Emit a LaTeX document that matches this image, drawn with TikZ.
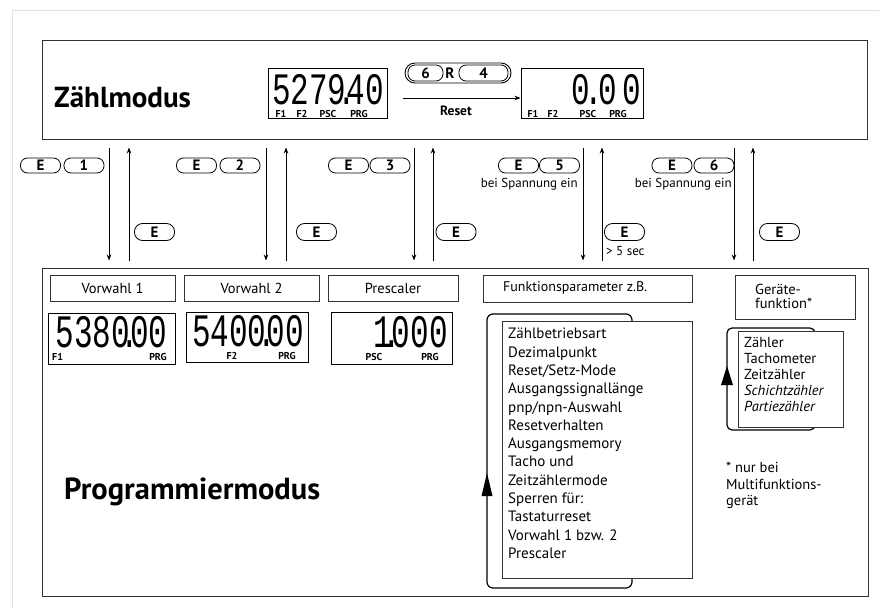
\documentclass[tikz,border=0pt]{standalone}
\usepackage{fontspec}
\setmainfont{PT Sans}
\newfontfamily\segfont{Liberation Mono}
\usetikzlibrary{arrows.meta}
\newcommand{\segdot}{\kern-.3em.\kern-.3em}
\begin{document}
\begin{tikzpicture}[x=1pt,y=-1pt,
  frame/.style={draw=black!80, line width=1pt, inner sep=0pt},
  box/.style={draw=black!80, line width=0.8pt, inner sep=0pt},
  lbl/.style={draw=black!80, line width=0.8pt, inner sep=0pt, font=\fontsize{14.5}{15}\selectfont},
  ltxt/.style={inner sep=0pt, anchor=west, align=left, font=\fontsize{14}{14}\selectfont},
  disp/.style={draw=black, line width=1pt, inner sep=0pt},
  pill/.style={draw, line width=0.8pt, rounded corners=7pt, minimum width=40pt, minimum height=15pt, inner sep=0pt, font=\bfseries\fontsize{15}{15}\selectfont},
  rpill/.style={pill, minimum height=17pt, rounded corners=8pt},
  arr/.style={-{Stealth[length=6pt,width=4.5pt]}, line width=0.7pt},
  dlab/.style={font=\bfseries\fontsize{10}{10}\selectfont, inner sep=0pt},
  seg/.style={font=\segfont\fontsize{31}{31}\selectfont, inner sep=0pt},
  small/.style={font=\fontsize{13}{14}\selectfont, inner sep=0pt},
  title/.style={font=\bfseries\fontsize{29}{29}\selectfont, inner sep=0pt, anchor=west},
  loop/.style={line width=1.2pt, rounded corners=6pt},
]
\useasboundingbox (0,0) rectangle (879,608);
\draw[black!12, line width=1pt] (879,10) -- (12,10) -- (12,608);

% main frames
\node[frame, minimum width=825pt, minimum height=99pt] (zm) at (454.5,89.5) {};
\node[frame, minimum width=826pt, minimum height=328pt] (pm) at (455,432) {};

% ---------- Zaehlmodus ----------
\node[title] (tz) at (54,97) {Zählmodus};

\node[disp, minimum width=119pt, minimum height=50pt] (d1) at (327.5,93) {};
\node[seg] (d1n) at (328,89.5) {\scalebox{1}[1.45]{5279\segdot40}};
\node[dlab] (d1a) at (281,114) {F1};
\node[dlab] (d1b) at (302,114) {F2};
\node[dlab] (d1c) at (328,114) {PSC};
\node[dlab] (d1d) at (359,114) {PRG};

\node[draw, line width=0.9pt, rounded corners=10pt, minimum width=106pt, minimum height=20pt, inner sep=0pt] (key) at (458,73) {};
\node[pill, minimum width=35pt, minimum height=16pt] (k6) at (425.5,73) {6};
\node[font=\bfseries\fontsize{15}{15}\selectfont, inner sep=0pt] (kr) at (450,73) {R};
\node[pill, minimum width=49pt, minimum height=16pt] (k4) at (483.5,73) {4};

\node[disp, minimum width=122pt, minimum height=50pt] (d2) at (582,93) {};
\node[seg, anchor=east] (d2n) at (641,89.5) {\scalebox{1}[1.45]{0\kern.15em\segdot\kern.15em0\kern.15em0}};
\node[dlab] (d2a) at (533,114) {F1};
\node[dlab] (d2b) at (553,114) {F2};
\node[dlab] (d2c) at (588,114) {PSC};
\node[dlab] (d2d) at (618,114) {PRG};

\coordinate (rs) at (403,98);
\draw[arr] (rs) -- (rs -| d2.west);
\node[font=\bfseries\fontsize{13.5}{13.5}\selectfont, inner sep=0pt] (reset) at (456,111) {Reset};

% ---------- transitions ----------
\foreach \n/\xd/\xu in {1/109/129, 2/266/286, 3/414/433, 4/583/602, 5/734/753}{
  \coordinate (cd\n) at (\xd,0);
  \coordinate (cu\n) at (\xu,0);
  \draw[arr, shorten <=8pt, shorten >=7pt] (zm.south -| cd\n) -- (pm.north -| cd\n);
  \draw[arr, shorten <=7pt, shorten >=8pt] (pm.north -| cu\n) -- (zm.south -| cu\n);
}

\node[pill] (e1) at (40.5,165.5) {E};
\node[pill] (n1) at (84,165.5) {1};
\node[pill] (e2) at (196.5,165.5) {E};
\node[pill] (n2) at (240,165.5) {2};
\node[pill] (e3) at (348.5,165.5) {E};
\node[pill] (n3) at (390,165.5) {3};
\node[pill] (e5) at (518.5,165.5) {E};
\node[pill] (n5) at (559.5,165.5) {5};
\node[pill] (e6) at (672,165.5) {E};
\node[pill] (n6) at (714,165.5) {6};
\node[small, anchor=east] (sp1) at (578,184) {bei Spannung ein};
\node[small, anchor=east] (sp2) at (732,184) {bei Spannung ein};

\node[rpill] (r1) at (154.5,232) {E};
\node[rpill] (r2) at (316.5,232) {E};
\node[rpill] (r3) at (456,232) {E};
\node[rpill] (r4) at (624.5,232) {E};
\node[rpill] (r5) at (779.5,232) {E};
\node[small, anchor=west] (sec) at (606,251) {> 5 sec};

% ---------- Programmiermodus ----------
\node[title, font=\bfseries\fontsize{30.5}{30.5}\selectfont] (tp) at (64,492) {Programmiermodus};

\node[lbl, minimum width=125pt, minimum height=26pt] (v1) at (112.5,288) {Vorwahl 1};
\node[lbl, minimum width=135pt, minimum height=26pt] (v2) at (251.5,288) {Vorwahl 2};
\node[lbl, minimum width=130pt, minimum height=26pt] (ps) at (393,288) {Prescaler};
\node[box, minimum width=209pt, minimum height=27pt] (fp) at (587.5,288.5) {};
\node[ltxt, font=\fontsize{14}{14}\selectfont] (fpt) at (503,288) {Funktionsparameter z.B.};
\node[box, minimum width=120pt, minimum height=44pt] (gf) at (795,297) {};
\node[ltxt, font=\fontsize{14.5}{14}\selectfont] (gft) at (755,296) {Geräte-\\funktion*};

\node[disp, minimum width=127pt, minimum height=51pt] (dv1) at (111.5,338.5) {};
\node[seg] (dv1n) at (111.5,332) {\scalebox{1}[1.5]{5380\segdot00}};
\node[dlab, anchor=west] (dv1a) at (52,357) {F1};
\node[dlab] (dv1b) at (158,357) {PRG};

\node[disp, minimum width=122pt, minimum height=50pt] (dv2) at (247,337) {};
\node[seg] (dv2n) at (248,331) {\scalebox{1}[1.5]{5400\segdot00}};
\node[dlab] (dv2a) at (232,356) {F2};
\node[dlab] (dv2b) at (287,356) {PRG};

\node[disp, minimum width=121pt, minimum height=52pt] (dp) at (391.5,338) {};
\node[seg, anchor=east] (dpn) at (448,332) {\scalebox{1}[1.5]{1\segdot000}};
\node[dlab] (dpa) at (374,357) {PSC};
\node[dlab] (dpb) at (430,357) {PRG};

% function parameter loop
\draw[loop] (632,314) rectangle (487,588);
\fill (487,473) -- (492.5,496) -- (481.5,496) -- cycle;
\node[frame, fill=white, minimum width=190pt, minimum height=257pt] (fl) at (597,449.5) {};
\node[anchor=north west, align=left, inner sep=0pt, font=\fontsize{15}{18.3}\selectfont] (flt) at (508,328)
  {Zählbetriebsart\\Dezimalpunkt\\Reset/Setz-Mode\\Ausgangssignallänge\\pnp/npn-Auswahl\\Resetverhalten\\Ausgangsmemory\\Tacho und\\Zeitzählermode\\Sperren für:\\Tastaturreset\\Vorwahl 1 bzw. 2\\Prescaler};

% device function loop
\draw[loop, rounded corners=5pt] (815,328) rectangle (727,430);
\fill (727,366) -- (733,385) -- (721,385) -- cycle;
\node[frame, fill=white, minimum width=105pt, minimum height=96pt] (gl) at (790.5,379) {};
\node[anchor=north west, align=left, inner sep=0pt, font=\fontsize{14.5}{16}\selectfont] (glt) at (744,337)
  {Zähler\\Tachometer\\Zeitzähler\\\textit{Schichtzähler}\\\textit{Partiezähler}};

\node[anchor=north west, align=left, inner sep=0pt, font=\fontsize{14.5}{16.5}\selectfont] (fn) at (726,462)
  {* nur bei\\Multifunktions-\\gerät};
\end{tikzpicture}
\end{document}
